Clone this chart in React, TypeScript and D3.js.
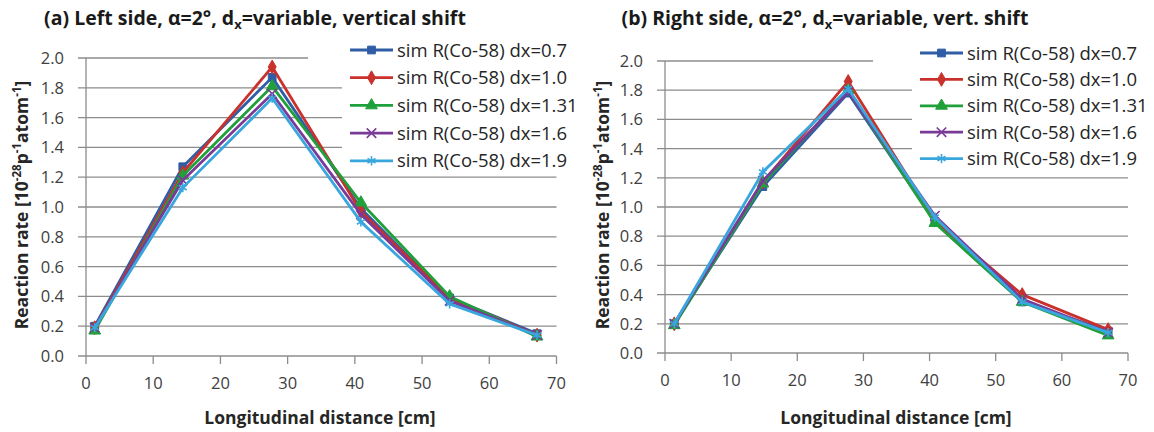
import React from "react";
import * as d3 from "d3";

const seriesNames = [
  "sim R(Co-58) dx=0.7",
  "sim R(Co-58) dx=1.0",
  "sim R(Co-58) dx=1.31",
  "sim R(Co-58) dx=1.6",
  "sim R(Co-58) dx=1.9",
];
const seriesColors = ["#2F5DA6", "#C8312C", "#20A03A", "#7A3A98", "#39A6DD"];
const seriesMarkers = ["square", "diamond", "triangle", "x", "asterisk"];

const xLeft = [1.3, 14.4, 27.7, 40.9, 54.1, 67.1];
const leftDx07 = [0.2, 1.27, 1.87, 0.99, 0.39, 0.15];
const leftDx10 = [0.19, 1.23, 1.94, 0.97, 0.39, 0.14];
const leftDx131 = [0.17, 1.21, 1.81, 1.03, 0.4, 0.13];
const leftDx16 = [0.19, 1.18, 1.76, 0.95, 0.37, 0.14];
const leftDx19 = [0.19, 1.13, 1.73, 0.9, 0.35, 0.14];

const xRight = [1.4, 14.8, 27.7, 40.8, 54.0, 67.0];
const rightDx07 = [0.2, 1.14, 1.78, 0.9, 0.35, 0.15];
const rightDx10 = [0.2, 1.17, 1.86, 0.91, 0.4, 0.16];
const rightDx131 = [0.19, 1.16, 1.8, 0.89, 0.35, 0.12];
const rightDx16 = [0.2, 1.18, 1.79, 0.94, 0.37, 0.14];
const rightDx19 = [0.2, 1.24, 1.81, 0.93, 0.35, 0.14];

const xTicks = [0, 10, 20, 30, 40, 50, 60, 70];
const yTicks = [0, 0.2, 0.4, 0.6, 0.8, 1.0, 1.2, 1.4, 1.6, 1.8, 2.0];

const FONT = "'Open Sans', Lato, sans-serif";

function markerPath(kind: string, size: number) {
  const map: Record<string, any> = {
    square: d3.symbolSquare,
    diamond: d3.symbolDiamond,
    triangle: d3.symbolTriangle,
    x: d3.symbolX,
    asterisk: d3.symbolAsterisk,
  };
  return d3.symbol(map[kind], size)() as string;
}

function Marker({ kind, color, x, y }: any) {
  const stroke = kind === "x" || kind === "asterisk";
  return (
    <path
      d={markerPath(kind, stroke ? 60 : kind === "diamond" ? 55 : 60)}
      transform={`translate(${x},${y})`}
      fill={stroke ? "none" : color}
      stroke={color}
      strokeWidth={stroke ? 1.6 : 1}
    />
  );
}

function Panel({ cfg }: any) {
  const x = d3.scaleLinear().domain([0, 70]).range([cfg.x0, cfg.x1]);
  const y = d3.scaleLinear().domain([0, 2]).range([cfg.yb, cfg.yt]);
  const line = d3
    .line<number>()
    .x((_, i) => x(cfg.xs[i]))
    .y((d) => y(d));
  const grid = "#8c8c8c";
  return (
    <g>
      <text
        x={cfg.titleX}
        y={25}
        fontFamily={FONT}
        fontWeight="bold"
        fontSize={19.5}
        fill="#1a1a1a"
        textAnchor="middle"
      >
        {cfg.titleA}
        <tspan>d</tspan>
        <tspan fontSize={13} dy={4}>x</tspan>
        <tspan dy={-4}>{cfg.titleB}</tspan>
      </text>
      {yTicks.map((t) => (
        <g key={t}>
          <line
            x1={cfg.x0 - 8}
            x2={t === 2 ? cfg.topGridEnd : cfg.x1}
            y1={y(t)}
            y2={y(t)}
            stroke={grid}
            strokeWidth={1.3}
          />
          <text
            x={cfg.x0 - 22}
            y={y(t)}
            dy="0.36em"
            textAnchor="end"
            fontFamily={FONT}
            fontSize={16.5}
            fill="#404040"
          >
            {d3.format(".1f")(t)}
          </text>
        </g>
      ))}
      <line x1={cfg.x0} x2={cfg.x0} y1={y(2)} y2={y(0)} stroke={grid} strokeWidth={1.3} />
      {xTicks.map((t) => (
        <g key={t}>
          <line x1={x(t)} x2={x(t)} y1={y(0)} y2={y(0) + 8} stroke={grid} strokeWidth={1.3} />
          <text
            x={x(t)}
            y={y(0) + 33}
            textAnchor="middle"
            fontFamily={FONT}
            fontSize={16.5}
            fill="#404040"
          >
            {t}
          </text>
        </g>
      ))}
      <text
        x={cfg.xTitleX}
        y={424}
        textAnchor="middle"
        fontFamily={FONT}
        fontWeight="bold"
        fontSize={17.5}
        fill="#262626"
      >
        Longitudinal  distance [cm]
      </text>
      <text
        transform={`translate(${cfg.yTitleX},205) rotate(-90)`}
        textAnchor="middle"
        fontFamily={FONT}
        fontWeight="bold"
        fontSize={17.5}
        fill="#262626"
        dy="0.35em"
      >
        Reaction  rate [10
        <tspan fontSize={11.5} dy={-7}>-28</tspan>
        <tspan dy={7}>p</tspan>
        <tspan fontSize={11.5} dy={-7}>-1</tspan>
        <tspan dy={7}>atom</tspan>
        <tspan fontSize={11.5} dy={-7}>-1</tspan>
        <tspan dy={7}>]</tspan>
      </text>
      {cfg.series.map((s: number[], i: number) => (
        <g key={i}>
          <path d={line(s) as string} fill="none" stroke={seriesColors[i]} strokeWidth={2.8} strokeLinejoin="round" />
          {s.map((v, j) => (
            <Marker key={j} kind={seriesMarkers[i]} color={seriesColors[i]} x={x(cfg.xs[j])} y={y(v)} />
          ))}
        </g>
      ))}
      <rect x={cfg.legX - 8} y={38} width={1154 - cfg.legX} height={128} fill="#fff" />
      {seriesNames.map((n, i) => {
        const ly = cfg.legY0 + i * cfg.legDy;
        return (
          <g key={n}>
            <line x1={cfg.legX} x2={cfg.legX + 43} y1={ly} y2={ly} stroke={seriesColors[i]} strokeWidth={2.8} />
            <Marker kind={seriesMarkers[i]} color={seriesColors[i]} x={cfg.legX + 21.5} y={ly} />
            <text
              x={cfg.legX + 47}
              y={ly}
              dy="0.36em"
              fontFamily={FONT}
              fontSize={18.5}
              fill="#262626"
            >
              {n}
            </text>
          </g>
        );
      })}
    </g>
  );
}

const leftCfg = {
  x0: 86,
  x1: 556.5,
  yt: 58,
  yb: 356,
  xs: xLeft,
  series: [leftDx07, leftDx10, leftDx131, leftDx16, leftDx19],
  titleA: "(a) Left side, α=2°,  ",
  titleB: "=variable, vertical shift",
  titleX: 255,
  xTitleX: 320,
  yTitleX: 22,
  topGridEnd: 308,
  legX: 350,
  legY0: 50,
  legDy: 27.7,
};

const rightCfg = {
  x0: 665,
  x1: 1128,
  yt: 61,
  yb: 353,
  xs: xRight,
  series: [rightDx07, rightDx10, rightDx131, rightDx16, rightDx19],
  titleA: "(b) Right side, α=2°,  ",
  titleB: "=variable, vert. shift",
  titleX: 825,
  xTitleX: 896,
  yTitleX: 603,
  topGridEnd: 873,
  legX: 920,
  legY0: 53,
  legDy: 26.4,
};

export default function App() {
  return (
    <svg
      width={1154}
      height={432}
      style={{ position: "absolute", left: 0, top: 0, background: "#fff" }}
    >
      <rect width={1154} height={432} fill="#fff" />
      <Panel cfg={leftCfg} />
      <Panel cfg={rightCfg} />
    </svg>
  );
}
